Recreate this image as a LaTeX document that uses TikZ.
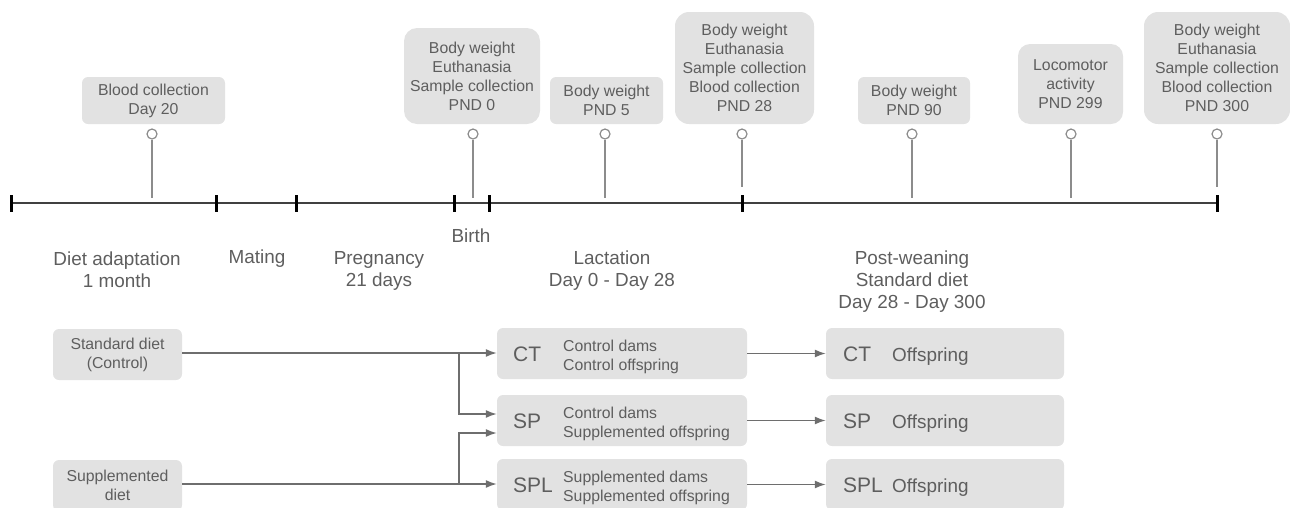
\documentclass[tikz,border=0pt]{standalone}
\usepackage{fontspec}
\setmainfont{Liberation Sans}
\usetikzlibrary{arrows.meta}
\definecolor{boxfill}{HTML}{E2E2E2}
\definecolor{txt}{HTML}{5E5E5E}
\definecolor{pincol}{HTML}{8C8C8C}
\definecolor{arrcol}{HTML}{6E6E6E}
\tikzset{
  box/.style={fill=boxfill, draw=none, text=txt, align=center, inner sep=0pt,
    font=\fontsize{15.8}{19}\selectfont},
  phase/.style={text=txt, align=center, inner sep=0pt, font=\fontsize{18.9}{22}\selectfont},
  big/.style={text=txt, anchor=west, inner sep=0pt, font=\fontsize{21}{24}\selectfont},
  small/.style={text=txt, anchor=west, align=left, inner sep=0pt, font=\fontsize{15.8}{19}\selectfont},
  offs/.style={text=txt, anchor=west, inner sep=0pt, font=\fontsize{18.9}{22}\selectfont},
  tick/.style={line width=3pt, black},
  pinline/.style={draw=pincol, line width=1.4pt},
  pinhead/.style={circle, draw=pincol, fill=white, line width=1.2pt, minimum size=10pt, inner sep=0pt},
  flow/.style={draw=arrcol, line width=1.5pt, -{Latex[length=11pt,width=8pt]}},
}
\begin{document}
\begin{tikzpicture}[x=1pt,y=-1pt]
\useasboundingbox (0,0) rectangle (1290,507);
% timeline
\draw[line width=2pt, black!75] (11,203) -- (1217,203);
\foreach \x/\n in {11/t0,216/t1,296/t2,454/t3,489/t4,742/t5,1217/t6}
  \draw[tick] (\x,195) -- (\x,212) coordinate (\n);
% event boxes
\node[box, rounded corners=6pt, minimum width=143pt, minimum height=47pt] (e1) at (153.5,100.5) {Blood collection\\Day 20};
\node[box, rounded corners=13pt, minimum width=136pt, minimum height=96pt] (e2) at (472,76) {Body weight\\Euthanasia\\Sample collection\\PND 0};
\node[box, rounded corners=6pt, minimum width=113pt, minimum height=47pt] (e3) at (606.5,100.5) {Body weight\\PND 5};
\node[box, rounded corners=14pt, minimum width=139pt, minimum height=112pt] (e4) at (744.5,68) {Body weight\\Euthanasia\\Sample collection\\Blood collection\\PND 28};
\node[box, rounded corners=6pt, minimum width=112pt, minimum height=47pt] (e5) at (914,100.5) {Body weight\\PND 90};
\node[box, rounded corners=12pt, minimum width=105pt, minimum height=80pt] (e6) at (1070.5,84) {Locomotor\\activity\\PND 299};
\node[box, rounded corners=14pt, minimum width=146pt, minimum height=112pt] (e7) at (1217,68) {Body weight\\Euthanasia\\Sample collection\\Blood collection\\PND 300};
% pins
\foreach \x/\yb/\n in {152/198/p1,473/198/p2,605/198/p3,742/187/p4,912/198/p5,1071/198/p6,1217/187/p7}{
  \coordinate (\n b) at (\x,\yb);
  \node[pinhead] (\n) at (\x,134) {};
  \draw[pinline] (\n.south) -- (\n b);
}
% phase labels
\node[phase] (birth) at (471,236) {Birth};
\node[phase] (ph1) at (117,270) {Diet adaptation\\1 month};
\node[phase] (ph2) at (257,259) {Mating};
\node[phase] (ph3) at (379,271) {Pregnancy\\21 days};
\node[phase] (ph4) at (612,271) {Lactation\\Day 0 - Day 28};
\node[phase] (ph5) at (912,282) {Post-weaning\\Standard diet\\Day 28 - Day 300};
% diet boxes
\node[box, rounded corners=6pt, minimum width=129pt, minimum height=51pt] (sd) at (117.5,354.5) {Standard diet\\(Control)};
\node[box, rounded corners=6pt, minimum width=129pt, minimum height=51pt] (su) at (117.5,485.5) {Supplemented\\diet};
% group boxes
\node[box, rounded corners=6pt, minimum width=250pt, minimum height=51pt] (ct) at (622,353.5) {};
\node[box, rounded corners=6pt, minimum width=250pt, minimum height=51pt] (sp) at (622,420.5) {};
\node[box, rounded corners=6pt, minimum width=250pt, minimum height=51pt] (spl) at (622,484.5) {};
\node[big] (ctl) at (513,354) {CT};
\node[small] (ctt) at (563,357) {Control dams\\Control offspring};
\node[big] (spl1) at (513,421) {SP};
\node[small] (spt) at (563,424) {Control dams\\Supplemented offspring};
\node[big] (spll) at (513,485) {SPL};
\node[small] (splt) at (563,488) {Supplemented dams\\Supplemented offspring};
% offspring boxes
\node[box, rounded corners=6pt, minimum width=238pt, minimum height=51pt] (oct) at (945,353.5) {};
\node[box, rounded corners=6pt, minimum width=238pt, minimum height=51pt] (osp) at (945,420.5) {};
\node[box, rounded corners=6pt, minimum width=238pt, minimum height=51pt] (ospl) at (945,484.5) {};
\node[big] (o1) at (843,354) {CT};
\node[offs] (o1t) at (892,356.5) {Offspring};
\node[big] (o2) at (843,421) {SP};
\node[offs] (o2t) at (892,423.5) {Offspring};
\node[big] (o3) at (843,485) {SPL};
\node[offs] (o3t) at (892,487.5) {Offspring};
% connectors
\coordinate (j1) at (459,353);
\coordinate (j2) at (459,484);
\draw[flow] (sd.east |- j1) -- (ct.west |- j1);
\draw[flow] (j1) |- ([yshift=6.5pt]sp.west);
\draw[flow] (su.east |- j2) -- (spl.west |- j2);
\draw[flow] (j2) |- ([yshift=-12.5pt]sp.west);
\draw[flow] (ct.east) -- (oct.west);
\draw[flow] (sp.east) -- (osp.west);
\draw[flow] (spl.east) -- (ospl.west);
\end{tikzpicture}
\end{document}
